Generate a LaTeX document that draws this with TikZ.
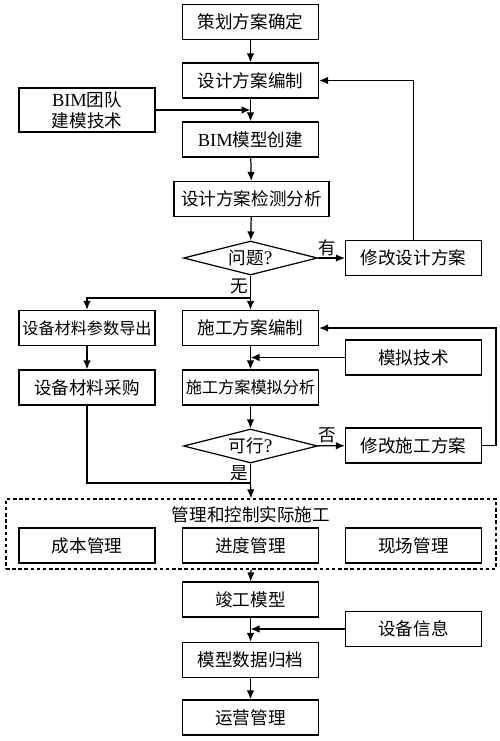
\documentclass[tikz,border=0pt]{standalone}
\usepackage{fontspec}
\setmainfont{Noto Sans CJK SC}
\newfontfamily\latin{Liberation Serif}
\usetikzlibrary{shapes.geometric,arrows.meta}

\begin{document}
\begin{tikzpicture}[x=0.02cm,y=-0.02cm,line width=0.7pt,
        >={Latex[length=1.8mm,width=1.5mm]},
        box/.style={draw,minimum width=2.72cm,minimum height=0.7cm,inner sep=1pt,font=\fontsize{10}{12}\selectfont},
        choice/.style={draw,diamond,aspect=4,inner sep=0pt,minimum width=2.68cm,minimum height=0.68cm,font=\fontsize{10}{12}\selectfont},
        narrow/.style={font=\fontsize{9.2}{11}\selectfont},
        lbl/.style={inner sep=1pt,font=\fontsize{10}{12}\selectfont}]
        \useasboundingbox (0,0) rectangle (500,741);
        \node[box] (plan) at (250.5,22) {策划方案确定};
        \node[box] (design) at (250.5,80.5) {设计方案编制};
        \node[box,minimum height=0.88cm,align=center] (team) at (87,110) {{\latin\fontsize{10.5}{12}\selectfont BIM}团队\\建模技术};
        \node[box] (bim) at (250.5,139.5) {{\latin\fontsize{10.5}{12}\selectfont BIM}模型创建};
        \node[box,minimum width=3.1cm] (check) at (251.5,199) {设计方案检测分析};
        \node[choice] (q1) at (250.5,258) {问题{\latin\fontsize{11}{12}\selectfont ?}};
        \node[box] (modd) at (413.5,258) {修改设计方案};
        \node[box,narrow] (equip) at (87,328) {设备材料参数导出};
        \node[box] (cons) at (250.5,328) {施工方案编制};
        \node[box] (sim) at (413.5,357.5) {模拟技术};
        \node[box] (buy) at (87,387.5) {设备材料采购};
        \node[box,narrow] (consim) at (250.5,387.5) {施工方案模拟分析};
        \node[choice] (q2) at (250.5,446) {可行{\latin\fontsize{11}{12}\selectfont ?}};
        \node[box] (modc) at (413.5,445.5) {修改施工方案};
        \node[draw,dashed,dash pattern=on 2pt off 1.5pt,minimum width=9.8cm,minimum height=1.4cm] (mgmt) at (251,534) {};
        \node[lbl] (mgmttitle) at (251,515) {管理和控制实际施工};
        \node[box] (cost) at (87,545.5) {成本管理};
        \node[box] (prog) at (250.5,545.5) {进度管理};
        \node[box] (site) at (413.5,545.5) {现场管理};
        \node[box] (final) at (250.5,599.5) {竣工模型};
        \node[box] (info) at (413.5,629) {设备信息};
        \node[box] (archive) at (250.5,660) {模型数据归档};
        \node[box] (ops) at (250.5,717.5) {运营管理};
        \coordinate (fork1) at (250.5,298);
        \coordinate (join1) at (250.5,483);
        \draw[->] (plan) -- (design);
        \draw[->] (design) -- (bim);
        \draw[->] (team.east) -- (team.east -| bim.north);
        \draw[->] (bim) -- (check);
        \draw[->] (check) -- (q1);
        \draw[->] (q1) -- node[lbl,pos=0.35,above] {有} (modd);
        \draw[->] (modd.north) |- (design.east);
        \draw (q1.south) -- node[lbl,left] {无} (fork1);
        \draw[->] (fork1) -- (cons.north);
        \draw[->] (fork1) -| (equip.north);
        \draw[->] (equip) -- (buy);
        \draw[->] (cons) -- (consim);
        \draw[->] (sim.west) -- (sim.west -| cons.south);
        \draw[->] (consim) -- (q2);
        \draw[->] (q2) -- node[lbl,pos=0.35,above] {否} (modc);
        \draw[->] (modc.east) -- ++(14,0) |- (cons.east);
        \draw (buy.south) |- (join1);
        \draw (q2.south) -- node[lbl,left] {是} (join1);
        \draw[->] (join1) -- (mgmt.north);
        \draw[->] (mgmt.south) -- (final.north);
        \draw[->] (final) -- (archive);
        \draw[->] (info.west) -- (info.west -| final.south);
        \draw[->] (archive) -- (ops);
    \end{tikzpicture}
\end{document}
